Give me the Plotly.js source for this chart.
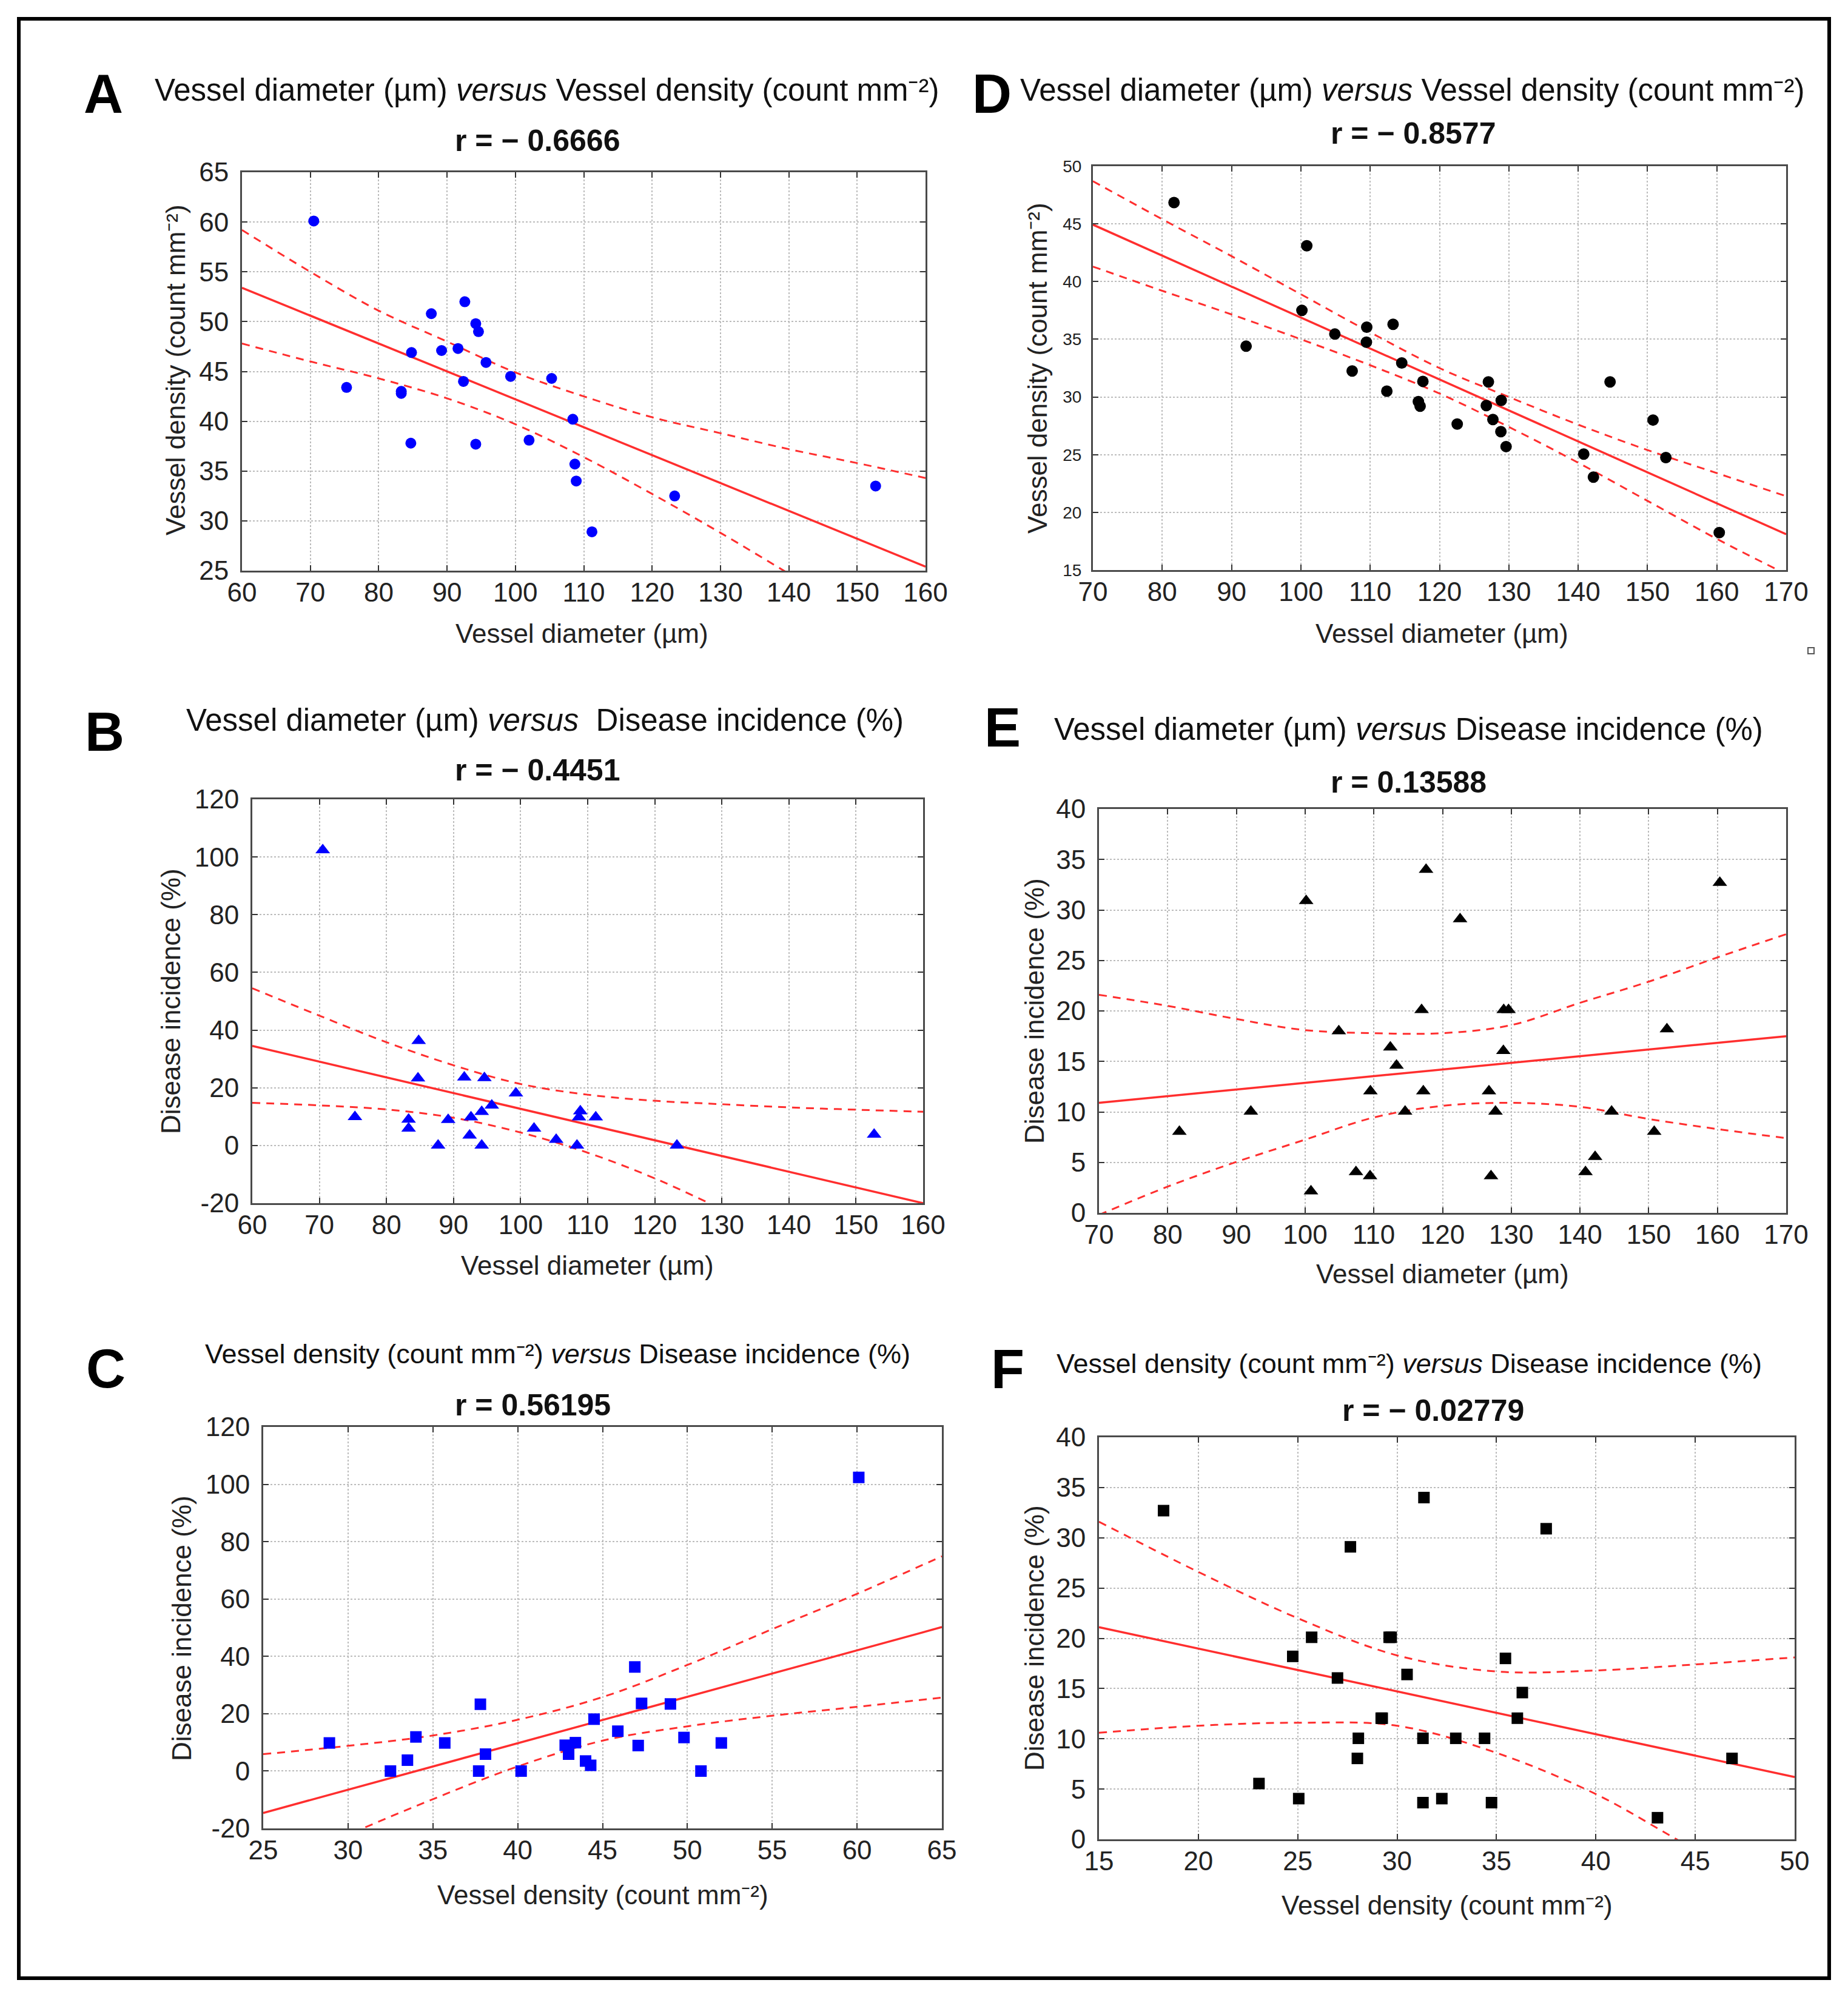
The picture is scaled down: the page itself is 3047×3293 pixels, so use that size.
<!DOCTYPE html>
<html><head><meta charset="utf-8">
<script src="https://cdn.plot.ly/plotly-3.0.1.min.js"></script>
<style>html,body{margin:0;padding:0;background:#fff}#chart{width:3047px;height:3293px}</style>
</head><body><div id="chart"></div>
<script>
// ---------- data: samples of group 1 (panels A, B, C) ----------
const diam1 = [70.5,75.3,83.3,83.3,84.8,84.7,87.7,89.2,91.6,92.4,92.6,94.2,94.6,94.2,95.7,99.3,102.0,105.3,108.4,108.7,108.9,111.2,123.3,152.7];
const dens1 = [60.1,43.4,42.8,43.0,46.9,37.8,50.8,47.1,47.3,44.0,52.0,49.8,49.0,37.7,45.9,44.5,38.1,44.3,40.2,35.7,34.0,28.9,32.5,33.5];
const inc1  = [102.4,9.9,9.0,5.9,36.3,23.3,0,8.9,23.6,3.5,9.8,11.7,23.4,0,13.9,18.1,5.9,2.0,0,9.8,11.9,9.8,0,3.8];
// ---------- data: samples of group 2 (panels D, E, F) ----------
const diam2 = [81.7,92.1,100.15,100.85,104.9,107.4,109.5,109.45,112.4,113.3,114.55,116.95,117.2,117.6,122.55,126.75,127.05,127.7,128.9,128.85,129.6,140.8,142.2,144.6,150.8,152.65,160.35];
const dens2 = [46.85,34.4,37.5,43.1,35.45,32.25,36.05,34.75,30.5,36.3,32.95,29.6,29.2,31.35,27.65,29.25,31.3,28.05,29.7,27.0,25.7,25.05,23.05,31.3,28.0,24.75,18.25];
const inc2  = [8.05,10.05,30.9,2.15,18.0,4.05,12.05,3.65,16.4,14.6,10.05,20.1,12.05,34.0,29.1,12.05,3.65,10.05,20.1,16.05,20.1,4.05,5.55,10.05,8.05,18.2,32.7];

// ---------- regression lines and 95% bands ----------
const fitA_x = [60,160], fitA_y = [53.4,25.4];
const bandA_x = [60,70,80,90,100,110,120,130,140,150,160];
const upA = [59.2,55.0,51.1,48.0,44.9,42.5,40.4,38.8,37.2,35.8,34.3];
const loA = [47.8,46.0,44.3,42.3,39.7,36.4,32.7,28.8,24.7,20.6,16.4];

const fitB_x = [60,160], fitB_y = [34.5,-20];
const bandB_x = [60,70,80,90,100,110,120,130,140,150,160];
const upB = [54.5,45.0,35.8,27.8,21.3,17.6,15.5,14.3,13.2,12.4,11.7];
const loB = [14.8,13.9,12.5,9.6,4.5,-2.5,-11.4,-22,-32,-41.5,-51.7];

const fitC_x = [25,65], fitC_y = [-14.6,50.2];
const bandC_x = [25,30,35,40,45,50,55,60,65];
const upC = [5.9,8.8,12.4,17.9,25.8,37.0,49.5,61.8,74.9];
const loC = [-35.3,-22.2,-9.8,1.6,10.6,15.6,19.3,22.4,25.6];

const fitD_x = [70,170], fitD_y = [44.93,18.1];
const bandD_x = [70,80,90,100,110,120,130,140,150,160,170];
const upD = [48.7,45.4,42.2,38.9,35.6,32.5,30.0,27.6,25.4,23.4,21.4];
const loD = [41.3,39.2,37.15,35.0,32.75,30.3,27.4,24.3,21.0,17.7,14.65];

const fitE_x = [70,170], fitE_y = [10.9,17.5];
const bandE_x = [70,80,90,100,110,120,130,140,150,160,170];
const upE = [21.6,20.5,19.2,18.1,17.8,17.8,18.6,20.8,22.9,25.3,27.6];
const loE = [-0.2,2.6,5.05,7.25,9.45,10.6,10.9,10.5,9.3,8.3,7.4];

const fitF_x = [15,50], fitF_y = [21.1,6.2];
const bandF_x = [15,20,25,30,35,40,45,50];
const upF = [31.6,26.6,22.0,18.3,16.7,16.8,17.4,18.1];
const loF = [10.6,11.3,11.6,11.3,8.6,4.5,-1.0,-5.7];

// ---------- tick values ----------
const ticksDiamAB = [60,70,80,90,100,110,120,130,140,150,160];
const ticksDiamDE = [70,80,90,100,110,120,130,140,150,160,170];
const ticksDensA  = [25,30,35,40,45,50,55,60,65];
const ticksDensC  = [25,30,35,40,45,50,55,60,65];
const ticksDensD  = [15,20,25,30,35,40,45,50];
const ticksDensF  = [15,20,25,30,35,40,45,50];
const ticksIncBC  = [-20,0,20,40,60,80,100,120];
const ticksIncEF  = [0,5,10,15,20,25,30,35,40];

// ---------- text ----------
const titles = {
  A: 'Vessel diameter (µm) <i>versus</i> Vessel density (count mm⁻²)',
  B: 'Vessel diameter (µm) <i>versus</i>  Disease incidence (%)',
  C: 'Vessel density (count mm⁻²) <i>versus</i> Disease incidence (%)',
  D: 'Vessel diameter (µm) <i>versus</i> Vessel density (count mm⁻²)',
  E: 'Vessel diameter (µm) <i>versus</i> Disease incidence (%)',
  F: 'Vessel density (count mm⁻²) <i>versus</i> Disease incidence (%)'
};
const rText = {A:'r = − 0.6666', B:'r = − 0.4451', C:'r = 0.56195', D:'r = − 0.8577', E:'r = 0.13588', F:'r = − 0.02779'};
const labDiam = 'Vessel diameter (µm)';
const labDens = 'Vessel density (count mm⁻²)';
const labInc  = 'Disease incidence (%)';

// ---------- layout helpers (pixel geometry) ----------
const W = 3047, H = 3293;
const FONT = 'Liberation Sans, Arial, Helvetica, sans-serif';
const RED = '#ff2e2e';
const px = v => v / W, py = v => 1 - v / H;

const panels = [
  {k:'A', ax:'',  box:[399,284,1526,941],   xr:[60,160], yr:[25,65],  xt:ticksDiamAB, yt:ticksDensA, yfs:44,
   x:diam1, y:dens1, sym:'circle', col:'#0000ff', ms:18,
   fx:fitA_x, fy:fitA_y, bx:bandA_x, up:upA, lo:loA,
   letter:[170,155], title:[901,149,51], r:[886,232], xl:[960,1044,labDiam], yl:[290,610,labDens]},
  {k:'D', ax:'2', box:[1802,274,2945,940],  xr:[70,170], yr:[15,50],  xt:ticksDiamDE, yt:ticksDensD, yfs:28,
   x:diam2, y:dens2, sym:'circle', col:'#000000', ms:19,
   fx:fitD_x, fy:fitD_y, bx:bandD_x, up:upD, lo:loD,
   letter:[1635,155], title:[2328,149,51], r:[2330,220], xl:[2377,1044,labDiam], yl:[1710,607,labDens]},
  {k:'B', ax:'3', box:[416,1318,1522,1984], xr:[60,160], yr:[-20,120], xt:ticksDiamAB, yt:ticksIncBC, yfs:44,
   x:diam1, y:inc1, sym:'triangle-up', col:'#0000ff', ms:21,
   fx:fitB_x, fy:fitB_y, bx:bandB_x, up:upB, lo:loB,
   letter:[172,1207], title:[899,1187,51], r:[886,1270], xl:[968,2086,labDiam], yl:[281,1651,labInc]},
  {k:'E', ax:'4', box:[1812,1334,2945,2000], xr:[70,170], yr:[0,40], xt:ticksDiamDE, yt:ticksIncEF, yfs:44,
   x:diam2, y:inc2, sym:'triangle-up', col:'#000000', ms:21,
   fx:fitE_x, fy:fitE_y, bx:bandE_x, up:upE, lo:loE,
   letter:[1653,1200], title:[2322,1202,51], r:[2322,1290], xl:[2378,2100,labDiam], yl:[1705,1667,labInc]},
  {k:'C', ax:'5', box:[434,2353,1553,3015], xr:[25,65], yr:[-20,120], xt:ticksDensC, yt:ticksIncBC, yfs:44,
   x:dens1, y:inc1, sym:'square', col:'#0000ff', ms:19,
   fx:fitC_x, fy:fitC_y, bx:bandC_x, up:upC, lo:loC,
   letter:[174,2257], title:[919,2232,45], r:[878,2317], xl:[994,3124,labDens], yl:[299,2685,labInc]},
  {k:'F', ax:'6', box:[1812,2370,2959,3033], xr:[15,50], yr:[0,40], xt:ticksDensF, yt:ticksIncEF, yfs:44,
   x:dens2, y:inc2, sym:'square', col:'#000000', ms:19,
   fx:fitF_x, fy:fitF_y, bx:bandF_x, up:upF, lo:loF,
   letter:[1661,2258], title:[2323,2248,45], r:[2363,2326], xl:[2386,3141,labDens], yl:[1705,2701,labInc]}
];

const traces = [];
const layout = {
  width: W, height: H, margin:{l:0,r:0,t:0,b:0},
  paper_bgcolor:'#ffffff', plot_bgcolor:'#ffffff',
  showlegend:false, font:{family:FONT, color:'#1a1a1a'},
  annotations:[], shapes:[]
};

function axisCommon(range, ticks, fs){
  return {
    range: range, tickmode:'array', tickvals: ticks,
    ticktext: ticks.map(v => v < 0 ? '-' + Math.abs(v) : String(v)),
    showgrid:true, gridcolor:'#bcbcbc', gridwidth:2, griddash:'dot',
    zeroline:false, showline:true, linecolor:'#4a4a4a', linewidth:3, mirror:'ticks',
    ticks:'inside', ticklen:9, tickwidth:2, tickcolor:'#333',
    tickfont:{family:FONT, size:fs, color:'#222'}, fixedrange:true
  };
}

function ann(text, x, y, font, extra){
  return Object.assign({text:text, xref:'paper', yref:'paper', x:px(x), y:py(y),
    xanchor:'center', yanchor:'middle', showarrow:false,
    font:Object.assign({family:FONT, color:'#111'}, font)}, extra || {});
}

panels.forEach(p => {
  const xa = 'x' + p.ax, ya = 'y' + p.ax;
  const [l,t,r,b] = p.box;
  layout['xaxis' + p.ax] = Object.assign(axisCommon(p.xr, p.xt, 44),
    {domain:[px(l), px(r)], anchor: ya, ticklabelstandoff: -5});
  layout['yaxis' + p.ax] = Object.assign(axisCommon(p.yr, p.yt, p.yfs),
    {domain:[py(b), py(t)], anchor: xa, ticklabelstandoff: 10});

  traces.push({type:'scatter', mode:'lines', x:p.bx, y:p.up, xaxis:xa, yaxis:ya,
    line:{color:RED, width:3, dash:'13px,10px', shape:'spline', smoothing:1}, hoverinfo:'skip'});
  traces.push({type:'scatter', mode:'lines', x:p.bx, y:p.lo, xaxis:xa, yaxis:ya,
    line:{color:RED, width:3, dash:'13px,10px', shape:'spline', smoothing:1}, hoverinfo:'skip'});
  traces.push({type:'scatter', mode:'lines', x:p.fx, y:p.fy, xaxis:xa, yaxis:ya,
    line:{color:RED, width:3.5}, hoverinfo:'skip'});
  traces.push({type:'scatter', mode:'markers', x:p.x, y:p.y, xaxis:xa, yaxis:ya, cliponaxis:true,
    marker:{symbol:p.sym, color:p.col, size:p.ms, line:{width:0}}});

  layout.annotations.push(ann(p.k, p.letter[0], p.letter[1], {size:90, weight:'bold', color:'#000'}));
  layout.annotations.push(ann(titles[p.k], p.title[0], p.title[1], {size:p.title[2]}));
  layout.annotations.push(ann(rText[p.k], p.r[0], p.r[1], {size:50, weight:'bold'}));
  layout.annotations.push(ann(p.xl[2], p.xl[0], p.xl[1], {size:44, color:'#222'}));
  layout.annotations.push(ann(p.yl[2], p.yl[0], p.yl[1], {size:44, color:'#222'}, {textangle:-90}));
});

// outer frame and the small mark at the right edge
layout.shapes.push({type:'rect', xref:'paper', yref:'paper', x0:px(31), x1:px(3016), y0:py(31), y1:py(3262),
  line:{color:'#000', width:6}, fillcolor:'rgba(0,0,0,0)'});
layout.shapes.push({type:'rect', xref:'paper', yref:'paper', x0:px(2981), x1:px(2991), y0:py(1068), y1:py(1078),
  line:{color:'#555', width:2}, fillcolor:'rgba(0,0,0,0)'});

Plotly.newPlot('chart', traces, layout, {staticPlot:true, displayModeBar:false});
</script></body></html>
